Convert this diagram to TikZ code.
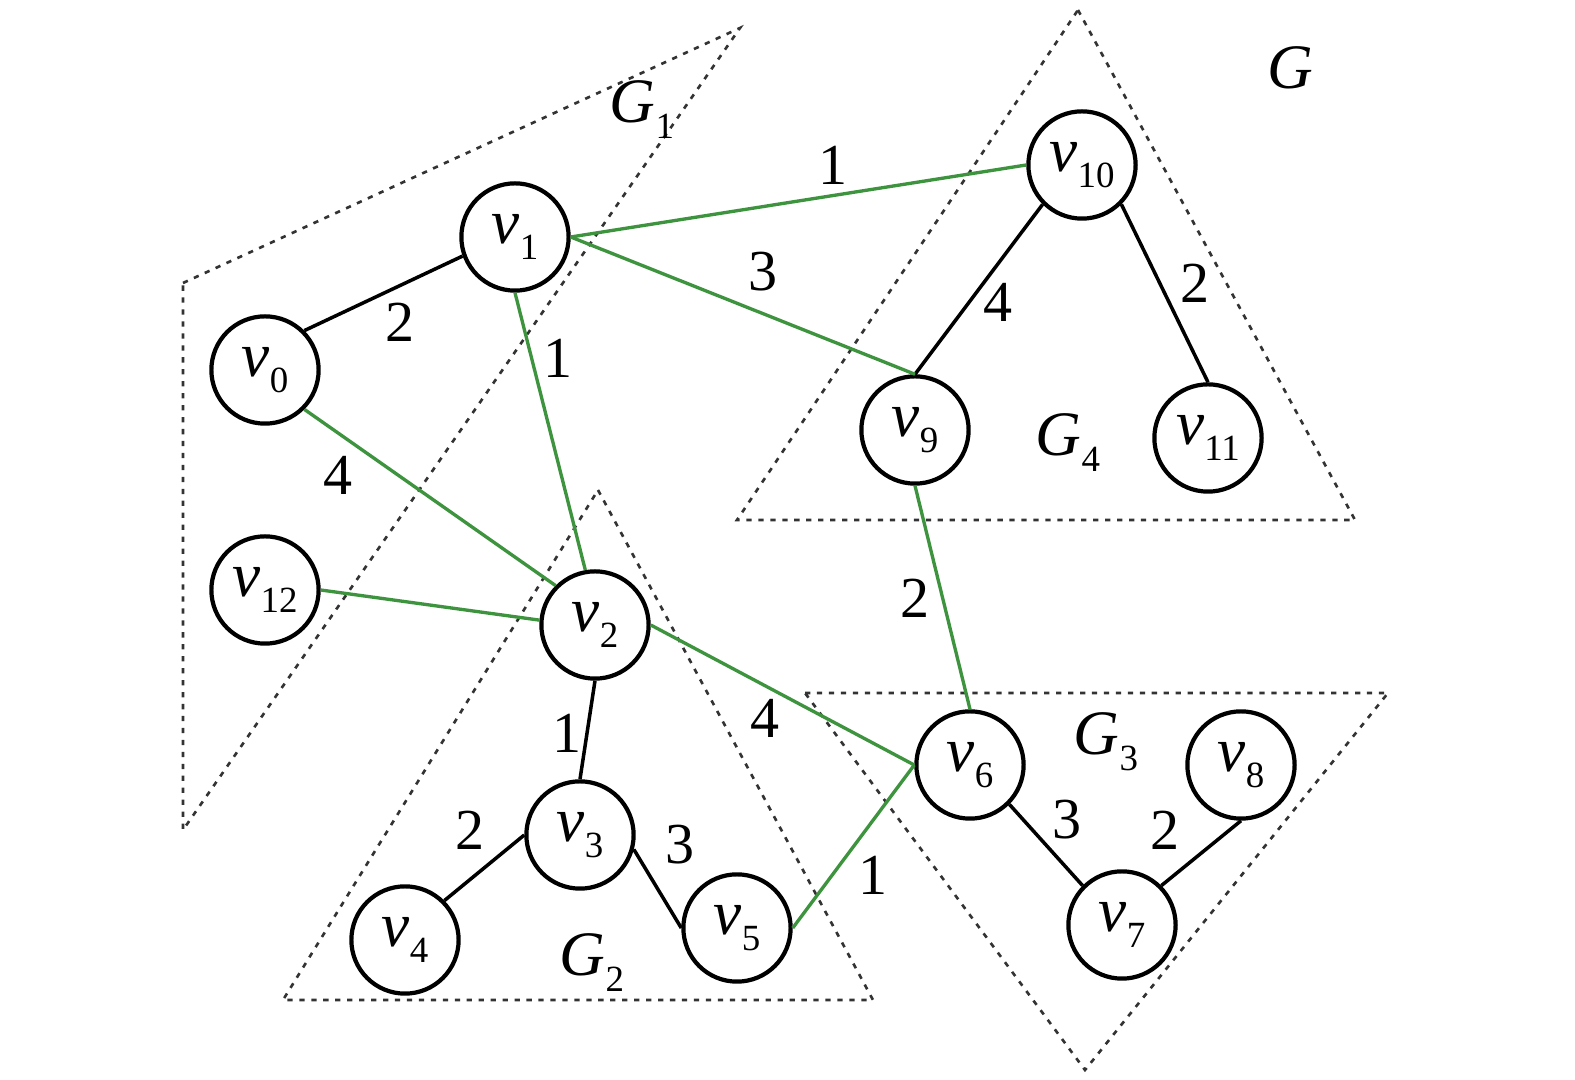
\documentclass[tikz,border=0pt]{standalone}
\usepackage{fontspec}
\setmainfont{Liberation Serif}
\usepackage{xcolor}
\definecolor{edgegreen}{RGB}{62,148,62}
\newcommand{\vtx}[1]{\textit{v}\raisebox{-0.55ex}{\fontsize{10.5}{10.5}\selectfont #1}}
\newcommand{\grp}[1]{\textit{G}\raisebox{-0.55ex}{\fontsize{10.5}{10.5}\selectfont #1}}

\begin{document}
\begin{tikzpicture}[x=0.01cm,y=-0.01cm,
  vert/.style={circle,draw,line width=1.2pt,minimum size=30.5pt,inner sep=0pt,font=\fontsize{18}{18}\selectfont},
  wt/.style={font=\fontsize{16.5}{16.5}\selectfont,inner sep=1pt},
  grplabel/.style={font=\fontsize{18}{18}\selectfont},
  region/.style={draw=black!80,line width=0.75pt,dash pattern=on 1.5pt off 1.9pt},
  tree/.style={line width=1pt},
  link/.style={edgegreen,line width=0.95pt}]
\useasboundingbox (0,0) rectangle (1575,1080);

% regions
\draw [region] (183,283) -- (740,28) -- (183,830) -- cycle;
\draw [region] (598,490) -- (873,1000) -- (283,1000) -- cycle;
\draw [region] (805,693) -- (1388,693) -- (1085,1070) -- cycle;
\draw [region] (1078,10) -- (1355,520) -- (737,520) -- cycle;
\node [grplabel] (gG) at (1290,68) {\textit{G}};
\node [grplabel] (gG1) at (642,110) {\grp{1}};
\node [grplabel] (gG2) at (592,963) {\grp{2}};
\node [grplabel] (gG3) at (1106,742) {\grp{3}};
\node [grplabel] (gG4) at (1068,443) {\grp{4}};

% vertices
\node [vert] (v0) at (265,370) {\vtx{0}};
\node [vert] (v1) at (515,237) {\vtx{1}};
\node [vert] (v2) at (595,625) {\vtx{2}};
\node [vert] (v3) at (580,835) {\vtx{3}};
\node [vert] (v4) at (405,940) {\vtx{4}};
\node [vert] (v5) at (737,928) {\vtx{5}};
\node [vert] (v6) at (970,765) {\vtx{6}};
\node [vert] (v7) at (1122,925) {\vtx{7}};
\node [vert] (v8) at (1241,765) {\vtx{8}};
\node [vert] (v9) at (915,430) {\vtx{9}};
\node [vert] (v10) at (1082,165) {\vtx{10}};
\node [vert] (v11) at (1208,438) {\vtx{11}};
\node [vert] (v12) at (265,590) {\vtx{12}};

% black edges
\draw [tree] (v0.north east) -- (v1.200);
\draw [tree] (v2.south) -- (v3.north);
\draw [tree] (v3.west) -- (v4.north east);
\draw [tree] (v3.345) -- (v5.west);
\draw [tree] (v6.south east) -- (v7.north west);
\draw [tree] (v7.north east) -- (v8.south);
\draw [tree] (v10.south west) -- (v9.north);
\draw [tree] (v10.south east) -- (v11.north);

% green edges
\draw [link] (v1.east) -- (v10.west);
\draw [link] (v1.east) -- (v9.north);
\draw [link] (v1.south) -- (v2.100);
\draw [link] (v0.south east) -- (v2.north west);
\draw [link] (v12.east) -- (v2.175);
\draw [link] (v2.east) -- (v6.west);
\draw [link] (v9.south) -- (v6.north);
\draw [link] (v5.east) -- (v6.west);

% weights
\node [wt] (w01) at (400,322) {2};
\node [wt] (w110) at (833,165) {1};
\node [wt] (w19) at (763,272) {3};
\node [wt] (w12) at (558,358) {1};
\node [wt] (w02) at (338,475) {4};
\node [wt] (w109) at (998,302) {4};
\node [wt] (w1011) at (1195,283) {2};
\node [wt] (w96) at (915,598) {2};
\node [wt] (w26) at (765,718) {4};
\node [wt] (w23) at (567,733) {1};
\node [wt] (w34) at (470,830) {2};
\node [wt] (w35) at (680,845) {3};
\node [wt] (w56) at (873,875) {1};
\node [wt] (w67) at (1067,820) {3};
\node [wt] (w78) at (1165,830) {2};
\end{tikzpicture}
\end{document}
